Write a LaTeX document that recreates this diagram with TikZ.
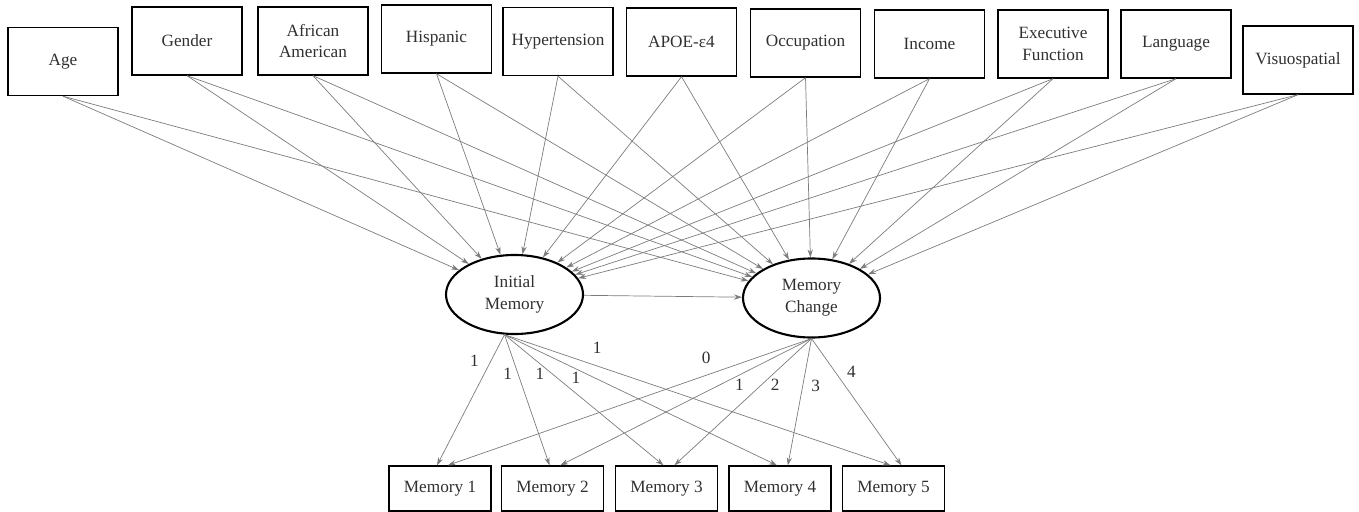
\documentclass[tikz,border=0pt]{standalone}
\usepackage{fontspec}
\setmainfont{Liberation Serif}
\usetikzlibrary{arrows.meta,shapes.geometric}
\definecolor{lineGray}{HTML}{7C7C7C}
\definecolor{textGray}{HTML}{303030}

\begin{document}
\begin{tikzpicture}[x=0.2mm,y=-0.2mm,>={Stealth[length=4.5pt,width=3pt]},
  font=\fontsize{9.8pt}{12.3pt}\selectfont,
  obsvar/.style={draw,thick,minimum width=22mm,minimum height=13.6mm,align=center,text=textGray},
  outvar/.style={draw,thick,minimum width=20.4mm,minimum height=9mm,text=textGray},
  latvar/.style={draw,ellipse,very thick,minimum width=27.4mm,minimum height=15.8mm,
    inner sep=0pt,align=center,text=textGray},
  regline/.style={lineGray,thin,->},
  loadlabel/.style={text=textGray,inner sep=0pt}]
  \useasboundingbox (0,0) rectangle (1359,512);
  % predictors
  \node[obsvar] (age) at (63,61.5) {Age};
  \node[obsvar] (gender) at (187,41) {Gender};
  \node[obsvar] (afram) at (313,41) {African\\American};
  \node[obsvar] (hisp) at (436.5,39) {Hispanic};
  \node[obsvar] (htn) at (558,41.5) {Hypertension};
  \node[obsvar] (apoe) at (681.5,42) {APOE-ε4};
  \node[obsvar] (occup) at (805.5,43) {Occupation};
  \node[obsvar] (income) at (929.5,44) {Income};
  \node[obsvar] (execf) at (1053,44) {Executive\\Function};
  \node[obsvar] (lang) at (1176,44) {Language};
  \node[obsvar] (visuo) at (1298,60) {Visuospatial};
  % growth factors
  \node[latvar] (im) at (514.5,294.5) {Initial\\Memory};
  \node[latvar] (mc) at (811.5,298) {Memory\\Change};
  % repeated measures
  \node[outvar] (m1) at (440,488.5) {Memory 1};
  \node[outvar] (m2) at (552.5,488.5) {Memory 2};
  \node[outvar] (m3) at (666.5,488.5) {Memory 3};
  \node[outvar] (m4) at (780,488.5) {Memory 4};
  \node[outvar] (m5) at (893.5,488.5) {Memory 5};

  \path[regline] (age.south) edge (im) edge (mc);
  \path[regline] (gender.south) edge (im) edge (mc);
  \path[regline] (afram.south) edge (im) edge (mc);
  \path[regline] (hisp.south) edge (im) edge (mc);
  \path[regline] (htn.south) edge (im) edge (mc);
  \path[regline] (apoe.south) edge (im) edge (mc);
  \path[regline] (occup.south) edge (im) edge (mc);
  \path[regline] (income.south) edge (im) edge (mc);
  \path[regline] (execf.south) edge (im) edge (mc);
  \path[regline] (lang.south) edge (im) edge (mc);
  \path[regline] (visuo.south) edge (im) edge (mc);
  \draw[regline] (im) -- (mc);

  % loadings
  \path[regline] (im.256)
    edge node[loadlabel,pos=.2,xshift=-9.4pt]{1} ([xshift=-1.7pt]m1.north)
    edge node[loadlabel,pos=.3,xshift=-5.9pt]{1} ([xshift=-1.7pt]m2.north)
    edge node[loadlabel,pos=.3,xshift=-7pt]{1} ([xshift=-1.7pt]m3.north)
    edge node[loadlabel,pos=.33,xshift=-10.5pt]{1} ([xshift=-1.7pt]m4.north)
    edge node[loadlabel,pos=.24,yshift=10.2pt]{1} ([xshift=-1.7pt]m5.north);
  \path[regline] (mc.south)
    edge node[loadlabel,pos=.29,yshift=9.7pt]{0} ([xshift=4.5pt]m1.north)
    edge node[loadlabel,pos=.3,xshift=1.8pt,yshift=-4.9pt]{1} ([xshift=4.5pt]m2.north)
    edge node[loadlabel,pos=.3,xshift=2.7pt,yshift=-4.9pt]{2} ([xshift=4.5pt]m3.north)
    edge node[loadlabel,pos=.37,xshift=7.3pt]{3} ([xshift=4.5pt]m4.north)
    edge node[loadlabel,pos=.26,xshift=9.4pt]{4} ([xshift=4.5pt]m5.north);
\end{tikzpicture}
\end{document}
